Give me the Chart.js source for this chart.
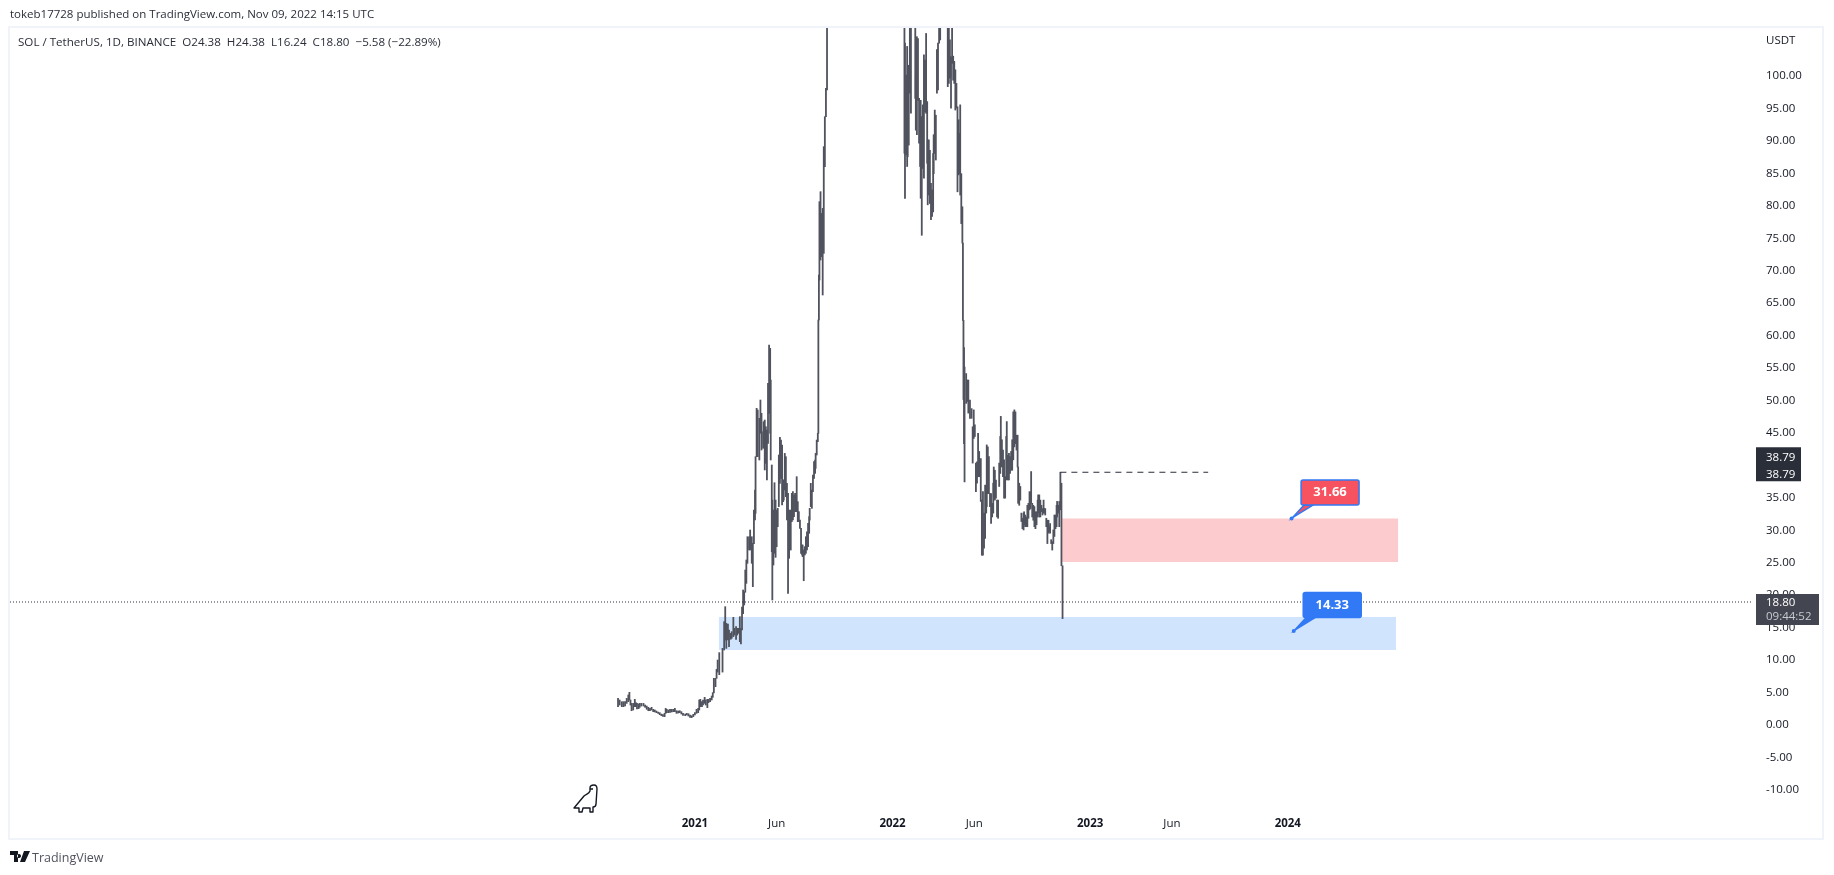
<!DOCTYPE html>
<html>
<head>
<meta charset="utf-8">
<title>SOL / TetherUS</title>
<script src="https://cdn.jsdelivr.net/npm/chart.js@4/dist/chart.umd.min.js"></script>
<style>
    html, body { margin: 0; padding: 0; background: #fff; overflow: hidden; }
    #wrap { position: relative; width: 1834px; height: 875px; font-family: "Open Sans", sans-serif; color: #131722; }
    #chart { position: absolute; left: 0; top: 0; }
    #frame { position: absolute; left: 8px; top: 26px; width: 1812px; height: 810px; border: 2px solid #f0f3fa; pointer-events: none; }
    .txt { position: absolute; white-space: pre; }
    #pub { left: 10px; top: 6px; font-size: 11.5px; line-height: 16px; color: #2a2e39; }
    #legend { left: 18px; top: 34px; font-size: 11.6px; line-height: 16px; color: #2a2e39; }
    #brand { left: 32px; top: 849px; font-size: 12.5px; line-height: 17px; color: #50535e; }
    svg { position: absolute; }
</style>
</head>
<body>
<div id="wrap">
    <canvas id="chart" width="1834" height="875"></canvas>
    <div id="frame"></div>
    <div class="txt" id="pub">tokeb17728 published on TradingView.com, Nov 09, 2022 14:15 UTC</div>
    <div class="txt" id="legend">SOL / TetherUS, 1D, BINANCE  O24.38  H24.38  L16.24  C18.80  −5.58 (−22.89%)</div>
    <svg style="left:10px;top:851px" width="20" height="12" viewBox="0 0 20 12">
        <path d="M0 0H8V11H4V4H0Z M9 3a2 2 0 1 0 .01 0Z M14 0H20L15 11H10Z" fill="#131722"/>
    </svg>
    <div class="txt" id="brand">TradingView</div>
    <svg style="left:572px;top:784px" width="28" height="30" viewBox="0 0 28 30">
        <path d="M2 24L12 12C14 10 17 10 18 7L18 4C18 2 20 1 22 1C24 1 25 3 25 5L24 20C24 22 23 23 21 23L21 28H18L18 24H11L10 28H7L7 24Z M21 5H18" fill="none" stroke="#131722" stroke-width="1.4" stroke-linejoin="round"/>
    </svg>
</div>

<script>
// days counted from 2021-01-01, one entry per pixel column of the picture
const days = [
    -142,-139,-135,-132,-129,-126,-123,-121,-119,-117,-114,-111,-109,-107,-104,-102,-99,-95,-92,-89,-86,-83,-80,-77,-74,-71,-68,-65,-62,-59,-56,-54,-52,-49,-46,-43,-40,-37,-34,-31,-28,-25,-22,-18,-15,-12,-9,-6,-3,
    0,3,6,8,10,13,15,18,20,23,25,28,31,33,35,38,40,42,45,
    51,54,56,58,61,63,66,68,71,73,76,78,81,83,85,87,89,91,93,95,97,100,102,105,107,109,111,112,114,116,119,121,123,126,127,129,131,133,135,137,139,140,142,143,145,147,149,151,153,155,157,159,161,163,164,166,168,170,172,174,175,177,179,181,183,185,187,188,190,192,194,196,198,199,201,203,205,207,209,211,212,214,216,218,220,222,223,225,227,228,
    229,230,232,234,236,238,240,242,244,
    387,388,390,392,393,395,397,399,407,408,410,412,414,416,417,419,421,423,425,427,429,430,432,434,436,438,440,441,443,445,447,449,451,453,467,469,471,472,473,475,477,479,481,483,485,487,489,490,492,494,495,
    496,497,498,501,503,505,508,511,513,515,517,519,521,523,525,528,530,532,534,536,538,539,541,543,545,547,549,551,552,554,556,558,560,562,564,565,567,569,571,573,575,576,578,580,582,584,586,588,590,592,594,596,597,599,601,603,605,607,608,610,612,614,616,618,620,621,623,625,627,629,631,633,634,636,638,640,642,644,645,647,649,651,653,655,656,658,660,662,664,666,668,669,671,673,675,677,679
];
const highs = [
    3.95,3.70,3.44,3.44,3.44,3.95,4.47,4.88,3.70,3.18,3.18,3.80,3.29,3.18,3.08,3.18,3.18,3.18,2.93,2.77,2.57,2.41,2.57,2.26,2.16,2.00,1.85,1.75,1.54,1.44,1.64,2.41,2.26,2.16,2.26,2.26,2.26,2.41,2.05,2.00,2.05,1.90,1.64,1.54,1.64,1.59,1.39,1.28,1.49,
    1.75,2.26,2.41,3.70,3.80,3.44,3.70,4.11,3.70,3.80,3.80,3.95,4.31,4.83,7.04,7.04,8.42,9.86,11.0,
    11.66,15.77,18.08,15.51,15.41,14.48,13.97,14.23,16.44,14.74,15.00,14.74,14.74,16.54,14.74,18.00,20.65,20.39,23.73,25.27,28.86,28.86,29.89,28.86,27.84,32.97,36.05,41.19,48.64,48.38,47.10,49.92,47.87,45.04,46.58,46.84,45.81,45.30,52.49,58.40,57.88,53.00,39.91,34.51,32.97,37.18,34.51,32.97,33.23,41.45,44.17,43.76,42.99,37.60,37.60,41.70,41.19,37.08,35.54,32.97,32.72,32.97,35.54,35.80,35.28,35.54,35.03,38.11,34.26,32.72,31.43,30.15,27.58,27.58,26.81,27.32,28.86,29.63,30.92,31.95,33.23,37.08,36.05,38.37,40.42,40.68,41.70,43.76,44.79,62.25,
    69.18,80.48,82.02,78.68,79.45,88.96,93.58,97.94,108,
    108,104.9,100.0,104.4,99.0,101.5,108,108,108,99.7,105.9,105.6,96.4,94.6,96.1,93.6,95.4,103.1,102.3,106.4,95.9,90.0,90.0,88.4,83.3,82.3,87.9,90.8,94.6,93.8,103.9,104.9,108,108,108,108,105.4,102.8,102.8,108,102.9,102.1,100.8,98.7,95.1,93.1,91.0,95.4,84.8,79.7,74.1,
    62.2,58.0,55.0,54.0,53.0,53.0,49.9,48.6,45.8,48.4,46.1,40.2,40.4,44.8,42.0,40.9,34.5,35.8,32.5,36.8,36.8,43.0,42.7,41.2,35.5,35.5,34.0,37.1,39.6,39.1,37.6,34.5,34.5,40.2,44.3,47.4,43.8,42.2,40.7,38.1,44.3,46.6,41.4,41.7,41.2,42.0,43.8,48.1,48.4,48.1,44.5,44.5,39.6,37.1,36.6,32.5,31.7,32.5,32.7,32.2,31.9,33.7,34.0,35.8,35.8,38.9,34.0,33.7,33.5,32.7,32.7,34.5,35.3,35.3,34.5,33.7,33.2,34.5,33.2,33.2,31.7,31.4,31.4,30.4,30.9,28.4,28.1,29.9,32.2,32.2,33.7,34.3,33.7,34.3,38.79,37.1,24.38
];
const lows = [
    2.67,2.93,2.67,2.67,2.77,3.18,3.44,3.70,2.93,2.05,2.16,2.67,2.67,2.31,2.36,2.57,2.77,2.77,2.57,2.26,2.05,2.05,2.16,1.90,1.85,1.75,1.64,1.44,1.28,1.18,1.13,1.64,1.75,1.75,1.80,1.85,1.90,1.90,1.64,1.69,1.75,1.54,1.34,1.28,1.39,1.23,1.03,0.98,1.13,
    1.39,1.64,1.75,2.16,2.67,2.67,2.93,3.18,2.93,2.52,3.29,3.44,3.70,4.11,4.80,5.75,7.04,8.00,7.6,
    8.00,11.40,12.94,11.66,12.94,11.92,13.05,13.20,13.46,13.71,13.05,13.71,13.97,12.69,12.33,14.48,17.00,18.34,20.30,21.67,24.76,26.81,26.81,24.76,21.16,27.80,31.43,32.46,41.19,41.19,40.68,44.79,42.22,42.48,43.24,39.14,40.16,37.60,43.24,47.87,44.79,40.68,26.55,19.11,24.50,26.30,25.68,27.32,30.41,33.50,37.08,37.85,33.74,34.26,34.51,36.05,35.03,31.43,20.13,25.53,28.09,26.81,31.18,31.43,31.95,32.72,32.72,32.72,31.18,31.18,30.15,26.30,26.04,25.78,22.08,26.04,26.30,26.81,27.32,29.38,31.43,33.49,33.23,35.80,37.85,38.62,39.39,41.45,43.50,44.79,
    62.25,68.41,71.49,72.00,66.10,72.52,85.87,93.58,97.69,
    87.93,81.0,87.7,85.9,87.4,89.2,97.2,94.1,96.4,91.5,90.8,96.1,89.5,85.9,81.0,75.3,85.6,84.1,94.3,94.1,86.4,80.0,81.5,80.2,77.7,78.2,78.9,84.8,87.9,86.9,97.2,97.7,104.9,105.4,98.2,98.7,99.5,99.7,94.9,101.8,99.2,98.7,94.6,94.9,82.0,84.6,84.8,81.5,77.1,74.1,62.2,
    50.0,43.2,37.3,49.4,49.7,47.9,47.1,47.1,40.2,44.0,44.3,35.8,37.1,38.1,38.1,34.3,26.0,26.0,27.1,28.6,32.5,33.5,35.5,35.5,33.5,30.9,31.9,32.5,35.0,34.5,34.8,31.9,31.7,36.6,38.6,41.7,39.6,38.1,34.8,34.8,37.6,40.7,37.6,37.6,38.6,39.1,39.1,40.7,42.7,43.2,42.2,39.6,34.0,33.7,34.5,31.2,30.1,29.9,30.7,30.4,30.4,30.4,31.7,33.0,33.2,34.0,31.9,31.4,30.4,30.1,30.7,31.9,32.5,31.9,31.9,32.7,32.2,32.5,32.5,32.2,30.4,27.8,29.4,29.6,29.4,27.8,26.8,27.8,28.9,30.1,30.4,31.9,32.5,30.4,33.0,24.38,16.24
];

const yTicks = [-10,-5,0,5,10,15,20,25,30,35,40,45,50,55,60,65,70,75,80,85,90,95,100];
const xTickDays = [0,151,365,516,730,881,1095];
const xTickLabels = ['2021','Jun','2022','Jun','2023','Jun','2024'];

// horizontal zones and lines
const redZoneDays = [677,1299];
const redZonePrices = [31.66,24.96];
const blueZoneDays = [44,1295];
const blueZonePrices = [16.49,11.4];
const dashDays = [675,948];
const dashPrice = 38.79;
const lastPrice = 18.80;

// price notes
const noteDays = [1102,1106];
const notePrices = [31.66,14.33];
const noteColors = ['#f7525f','#3179f5'];

const xMin = -1265, xMax = 1952.4;
const yMin = -12.94, yMax = 107.24;

function zone(zoneDays, prices, color) {
    return {
        type: 'line',
        data: zoneDays.map(d => ({ x: d, y: prices[0] })),
        borderWidth: 0,
        pointRadius: 0,
        backgroundColor: color,
        fill: { value: prices[1] },
        order: 3
    };
}

function hLine(x0, x1, price, dash) {
    return {
        type: 'line',
        data: [{ x: x0, y: price }, { x: x1, y: price }],
        borderColor: '#2a2e39',
        borderWidth: 1.2,
        borderDash: dash,
        pointRadius: 0,
        order: 0
    };
}

// tags on the price axis and the two price notes
const overlay = {
    id: 'overlay',
    afterDatasetsDraw(chart) {
        const { ctx, scales: { x, y } } = chart;
        ctx.save();
        ctx.textBaseline = 'middle';

        // notes
        notePrices.forEach((p, i) => {
            const px = x.getPixelForValue(noteDays[i]);
            const py = y.getPixelForValue(p);
            const bx = px + 9.5, by = py - 38.5, bw = 58, bh = 25;
            ctx.strokeStyle = '#3179f5';
            ctx.fillStyle = noteColors[i];
            ctx.lineWidth = 1.5;
            ctx.beginPath();
            ctx.moveTo(px + 1, py - 1);
            ctx.lineTo(bx + 12, by + bh);
            ctx.lineTo(bx + 3, by + bh);
            ctx.closePath();
            ctx.fill();
            ctx.stroke();
            ctx.beginPath();
            ctx.roundRect(bx, by, bw, bh, 2);
            ctx.fill();
            ctx.stroke();
            ctx.fillStyle = '#3179f5';
            ctx.beginPath();
            ctx.arc(px, py, 2, 0, Math.PI * 2);
            ctx.fill();
            ctx.fillStyle = '#fff';
            ctx.font = 'bold 13px "Open Sans", sans-serif';
            ctx.textAlign = 'center';
            ctx.fillText(p.toFixed(2), bx + bw / 2, by + bh / 2);
        });

        // axis tags
        ctx.textAlign = 'left';
        ctx.font = '11.5px "Open Sans", sans-serif';
        const top = y.getPixelForValue(dashPrice);
        ctx.fillStyle = '#2a2e39';
        ctx.fillRect(1756, top - 25, 45, 34);
        ctx.fillStyle = '#fff';
        ctx.fillText(dashPrice.toFixed(2), 1766, top - 15);
        ctx.fillText(dashPrice.toFixed(2), 1766, top + 2);

        const last = y.getPixelForValue(lastPrice);
        ctx.fillStyle = '#434651';
        ctx.fillRect(1756, last - 8, 63, 31);
        ctx.fillStyle = '#fff';
        ctx.fillText(lastPrice.toFixed(2), 1766, last + 1);
        ctx.fillStyle = '#c8cad0';
        ctx.fillText('09:44:52', 1766, last + 15);

        ctx.fillStyle = '#131722';
        ctx.fillText('USDT', 1766, 41);
        ctx.restore();
    }
};

new Chart(document.getElementById('chart'), {
    type: 'bar',
    data: {
        datasets: [
            {
                type: 'bar',
                data: days.map((d, i) => ({ x: d, y: [lows[i], highs[i]] })),
                backgroundColor: '#50535e',
                barThickness: 1.15,
                order: 1
            },
            zone(redZoneDays, redZonePrices, '#fccbcd'),
            zone(blueZoneDays, blueZonePrices, '#d1e4fd'),
            hLine(dashDays[0], dashDays[1], dashPrice, [6, 5]),
            hLine(xMin, xMax, lastPrice, [1, 2])
        ]
    },
    options: {
        responsive: false,
        animation: false,
        events: [],
        layout: { padding: { left: 10, top: 28, right: 12, bottom: 36 } },
        plugins: { legend: { display: false }, tooltip: { enabled: false } },
        scales: {
            x: {
                type: 'linear',
                min: xMin,
                max: xMax,
                offset: false,
                grid: { display: false, drawTicks: false },
                border: { display: false },
                afterBuildTicks: axis => { axis.ticks = xTickDays.map(v => ({ value: v })); },
                afterFit: axis => { axis.height = 31; },
                ticks: {
                    autoSkip: false,
                    maxRotation: 0,
                    padding: 9,
                    color: '#131722',
                    font: ctx => ({
                        family: '"Open Sans", sans-serif',
                        size: 11.5,
                        weight: ctx.index % 2 === 0 ? 'bold' : 'normal'
                    }),
                    callback: (v, i) => xTickLabels[i]
                }
            },
            y: {
                position: 'right',
                min: yMin,
                max: yMax,
                grid: { display: false, drawTicks: false },
                border: { display: false },
                afterBuildTicks: axis => { axis.ticks = yTicks.map(v => ({ value: v })); },
                afterFit: axis => { axis.width = 70; },
                ticks: {
                    autoSkip: false,
                    padding: 14,
                    labelOffset: 1,
                    color: '#131722',
                    font: { family: '"Open Sans", sans-serif', size: 11.5 },
                    callback: v => v.toFixed(2)
                }
            }
        }
    },
    plugins: [overlay]
});
</script>
</body>
</html>
